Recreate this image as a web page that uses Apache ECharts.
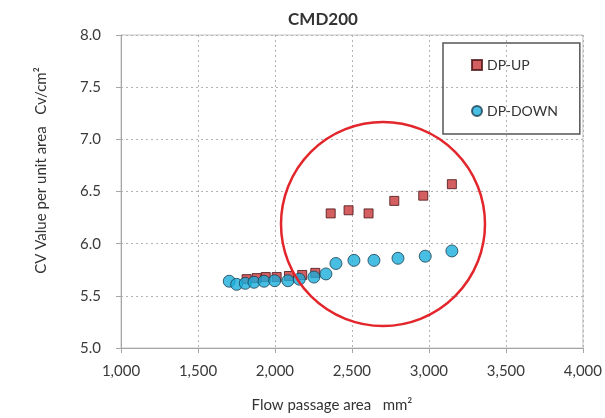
<!DOCTYPE html>
<html lang="en">
  <head>
    <meta charset="UTF-8" />
    <title>CMD200</title>
    <script src="https://cdn.jsdelivr.net/npm/echarts@6/dist/echarts.min.js"></script>
    <style>
      body {
        margin: 0;
        background: #fff;
      }
      #main {
        width: 605px;
        height: 418px;
      }
    </style>
  </head>
  <body>
    <div id="main"></div>
    <script type="text/javascript">
      // flow passage area (mm2) and CV value per unit area
      const upArea = [1816, 1881, 1940, 2011, 2091, 2177, 2262, 2362, 2478, 2608, 2775, 2963, 3149]
      const upCv = [5.66, 5.67, 5.68, 5.68, 5.69, 5.7, 5.72, 6.29, 6.32, 6.29, 6.41, 6.46, 6.57]
      const downArea = [1703, 1751, 1807, 1864, 1929, 1998, 2084, 2158, 2253, 2331, 2396, 2513, 2643, 2799, 2976, 3149]
      const downCv = [5.64, 5.61, 5.62, 5.63, 5.64, 5.645, 5.645, 5.66, 5.68, 5.71, 5.81, 5.84, 5.84, 5.86, 5.88, 5.93]

      const font = "Lato, 'DejaVu Sans', sans-serif"
      const chart = echarts.init(document.getElementById("main"))

      function pairs(xs, ys) {
        return xs.map((x, i) => [x, ys[i]])
      }

      chart.setOption({
        animation: false,
        textStyle: { fontFamily: font },
        title: {
          text: "CMD200",
          left: 318,
          top: 6,
          textAlign: "center",
          textStyle: { fontSize: 17, fontWeight: "bold", color: "#333", fontFamily: font },
        },
        grid: {
          left: 121,
          right: 22,
          top: 35,
          bottom: 70,
          show: true,
          borderColor: "#c4c4c4",
          borderWidth: 1,
        },
        legend: {
          orient: "vertical",
          left: 443,
          top: 43,
          padding: [15, 22, 16, 28],
          itemGap: 32,
          itemWidth: 10,
          itemHeight: 10,
          borderColor: "#555",
          borderWidth: 1.5,
          textStyle: { fontSize: 14, color: "#333", fontFamily: font, lineHeight: 14 },
          data: [
            { name: "DP-UP", icon: "rect" },
            { name: "DP-DOWN", icon: "circle" },
          ],
        },
        xAxis: {
          type: "value",
          min: 1000,
          max: 4000,
          interval: 500,
          name: "Flow passage area   mm²",
          nameLocation: "middle",
          nameGap: 50,
          nameTextStyle: { fontSize: 15, color: "#333", padding: [0, 40, 0, 0] },
          axisLine: { lineStyle: { color: "#a6a6a6" } },
          axisTick: { show: true, length: 5, lineStyle: { color: "#a6a6a6" } },
          axisLabel: {
            fontSize: 15,
            color: "#3a3a3a",
            margin: 16,
            formatter: v => v.toLocaleString("en-US"),
          },
          splitLine: { lineStyle: { color: "#b3b3b3", type: [2, 3] } },
        },
        yAxis: {
          type: "value",
          min: 5,
          max: 8,
          interval: 0.5,
          name: "CV Value per unit area   Cv/cm²",
          nameLocation: "middle",
          nameGap: 72,
          nameTextStyle: { fontSize: 15, color: "#333", padding: [0, 0, 0, 42] },
          axisLine: { show: true, lineStyle: { color: "#a6a6a6" } },
          axisTick: { show: true, length: 5, lineStyle: { color: "#a6a6a6" } },
          axisLabel: {
            fontSize: 15,
            color: "#3a3a3a",
            margin: 20,
            formatter: v => v.toFixed(1),
          },
          splitLine: { lineStyle: { color: "#b3b3b3", type: [2, 3] } },
        },
        series: [
          {
            name: "DP-UP",
            type: "scatter",
            symbol: "rect",
            symbolSize: 9,
            itemStyle: { color: "#c8373a", borderColor: "#4a1215", borderWidth: 1 },
            data: pairs(upArea, upCv),
            z: 2,
          },
          {
            name: "DP-DOWN",
            type: "scatter",
            symbol: "circle",
            symbolSize: 12,
            itemStyle: { color: "#1aaedc", borderColor: "#1a3f50", borderWidth: 1 },
            data: pairs(downArea, downCv),
            z: 3,
          },
        ],
        graphic: [
          {
            type: "circle",
            shape: { cx: 383, cy: 224, r: 102 },
            style: { fill: "none", stroke: "#e3262b", lineWidth: 2.5 },
            z: 100,
          },
        ],
      })
    </script>
  </body>
</html>
